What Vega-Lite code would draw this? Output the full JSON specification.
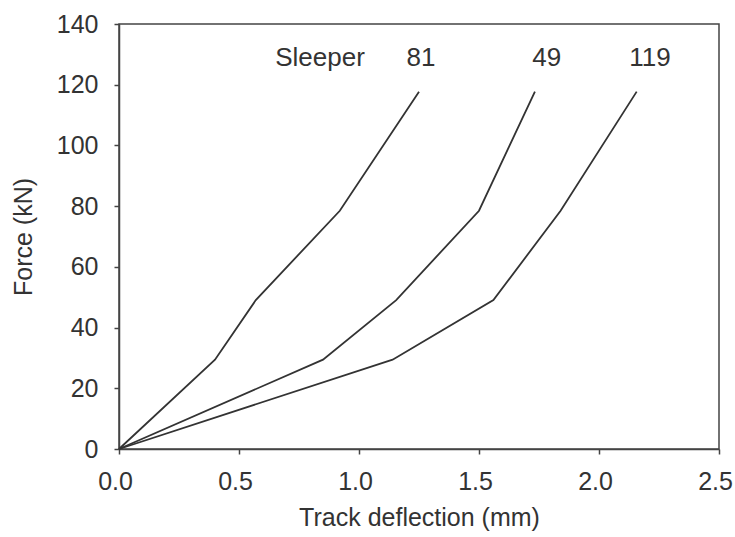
{
  "$schema": "https://vega.github.io/schema/vega-lite/v6.json",
  "width": 600,
  "height": 425,
  "autosize": {"type": "none"},
  "padding": {"left": 119, "top": 24, "right": 16, "bottom": 88},
  "background": "white",
  "config": {
    "font": "Liberation Sans",
    "view": {"stroke": "#444", "strokeWidth": 1.5},
    "axis": {
      "domainColor": "#444", "domainWidth": 1.5,
      "tickColor": "#444", "tickWidth": 1.5, "tickSize": 5,
      "labelFont": "Liberation Sans", "labelFontSize": 25, "labelColor": "#333",
      "titleFont": "Liberation Sans", "titleFontSize": 25, "titleColor": "#333", "titleFontWeight": "normal",
      "labelFlush": false,
      "grid": false
    }
  },
  "datasets": {
    "curves": [
      {"sleeper": "81", "deflection": 0.0, "force": 0},
      {"sleeper": "81", "deflection": 0.40, "force": 29.43},
      {"sleeper": "81", "deflection": 0.57, "force": 49.05},
      {"sleeper": "81", "deflection": 0.92, "force": 78.48},
      {"sleeper": "81", "deflection": 1.25, "force": 117.72},
      {"sleeper": "49", "deflection": 0.0, "force": 0},
      {"sleeper": "49", "deflection": 0.85, "force": 29.43},
      {"sleeper": "49", "deflection": 1.155, "force": 49.05},
      {"sleeper": "49", "deflection": 1.50, "force": 78.48},
      {"sleeper": "49", "deflection": 1.733, "force": 117.72},
      {"sleeper": "119", "deflection": 0.0, "force": 0},
      {"sleeper": "119", "deflection": 1.14, "force": 29.43},
      {"sleeper": "119", "deflection": 1.56, "force": 49.05},
      {"sleeper": "119", "deflection": 1.84, "force": 78.48},
      {"sleeper": "119", "deflection": 2.157, "force": 117.72}
    ],
    "labels": [
      {"label": "Sleeper", "deflection": 0.8375, "force": 126.3},
      {"label": "81", "deflection": 1.258, "force": 126.3},
      {"label": "49", "deflection": 1.782, "force": 126.3},
      {"label": "119", "deflection": 2.212, "force": 126.3}
    ]
  },
  "layer": [
    {
      "data": {"name": "curves"},
      "mark": {"type": "line", "color": "#333", "strokeWidth": 1.8},
      "encoding": {
        "x": {
          "field": "deflection", "type": "quantitative",
          "scale": {"domain": [0, 2.5], "nice": false},
          "axis": {"values": [0, 0.5, 1, 1.5, 2, 2.5], "format": ".1f", "title": "Track deflection (mm)", "labelPadding": 15, "labelOffset": -4, "titlePadding": 11}
        },
        "y": {
          "field": "force", "type": "quantitative",
          "scale": {"domain": [0, 140], "nice": false},
          "axis": {"values": [0, 20, 40, 60, 80, 100, 120, 140], "title": "Force (kN)", "labelPadding": 16, "titlePadding": 20}
        },
        "detail": {"field": "sleeper"},
        "order": {"field": "force", "type": "quantitative"}
      }
    },
    {
      "data": {"name": "labels"},
      "mark": {"type": "text", "fontSize": 26, "color": "#333", "align": "center", "baseline": "alphabetic", "font": "Liberation Sans"},
      "encoding": {
        "x": {"field": "deflection", "type": "quantitative"},
        "y": {"field": "force", "type": "quantitative"},
        "text": {"field": "label"}
      }
    }
  ]
}
